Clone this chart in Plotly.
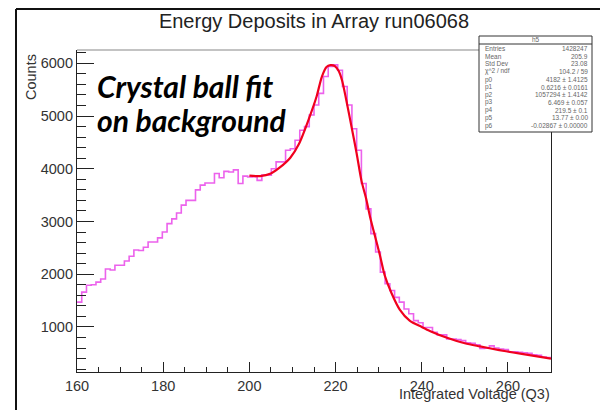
import numpy as np
import plotly.graph_objects as go

# ---- histogram h5: 100 bins of 1.1 between 160 and 270 ----
bin_lo = 160.0
bin_hi = 270.0
n_bins = 100
counts = [
    1470, 1660, 1790, 1800, 1850, 1910, 2100, 2080, 2170, 2170,
    2250, 2340, 2460, 2450, 2510, 2610, 2610, 2690, 2800, 2960,
    3050, 3160, 3310, 3400, 3400, 3600, 3690, 3730, 3730, 3910,
    3830, 3950, 3940, 3980, 3720, 3860, 3845, 3850, 3780, 3880,
    3880, 4000, 4130, 4130, 4350, 4380, 4540, 4730, 4800, 5020,
    5210, 5430, 5750, 5940, 5970, 5870, 5560, 5210, 4760, 4350,
    3720, 3240, 2770, 2420, 2040, 1820, 1690, 1560, 1470, 1340,
    1250, 1120, 1080, 990, 990, 900, 850, 850, 770, 770,
    760, 740, 700, 690, 660, 590, 600, 640, 600, 580,
    570, 530, 530, 520, 510, 500, 470, 460, 430, 420,
]

# ---- crystal ball + background fit, sampled along the drawn curve ----
fit_x = [200, 202.5, 205, 207, 209.5, 211.5, 214, 215.6, 216.8, 217.9,
         218.8, 219.8, 220.7, 221.5, 222.5, 223.7, 224.9, 226, 227.2, 228,
         229.1, 230.3, 231.4, 233, 234.9, 237.2, 240, 242, 245.7, 250,
         253.5, 258, 261.2, 265, 270]
fit_y = [3870, 3860, 3910, 4020, 4210, 4470, 4990, 5370, 5740, 5930,
         5965, 5950, 5860, 5680, 5300, 4800, 4290, 3780, 3400, 3090,
         2740, 2360, 1980, 1640, 1330, 1120, 1000, 920, 800, 690,
         630, 560, 515, 465, 400]

# ---- statistics box ----
stat_labels = ["Entries", "Mean", "Std Dev", "\u03c7^2 / ndf",
               "p0", "p1", "p2", "p3", "p4", "p5", "p6"]
stat_values = ["1428247", "205.9", "23.08", "104.2 / 59",
               "4182 \u00b1 1.4125", "0.6216 \u00b1 0.0161",
               "1057294 \u00b1 1.4142", "6.469 \u00b1 0.057",
               "219.5 \u00b1 0.1", "13.77 \u00b1 0.00",
               "-0.02867 \u00b1 0.00000"]

x_ticks = [160, 180, 200, 220, 240, 260]
y_ticks = [1000, 2000, 3000, 4000, 5000, 6000]

W, H = 600, 410
L, R, T, B = 77, 49, 50, 38
PW, PH = W - L - R, H - T - B


def px(x):
    return (x - L) / PW


def py(y):
    return (H - B - y) / PH


edges = np.linspace(bin_lo, bin_hi, n_bins + 1)
step_y = list(counts) + [counts[-1]]

fig = go.Figure()
fig.add_trace(go.Scatter(
    x=edges, y=step_y, mode="lines", line_shape="hv",
    line=dict(color="#ec62ec", width=1.6), hoverinfo="skip"))
fig.add_trace(go.Scatter(
    x=fit_x, y=fit_y, mode="lines", line_shape="spline",
    line=dict(color="#f0001e", width=2.2, smoothing=0.8), hoverinfo="skip"))

axis_font = dict(family="Liberation Sans, Arial", size=14.5, color="#333333")

fig.update_layout(
    width=W, height=H,
    margin=dict(l=L, r=R, t=T, b=B, pad=0),
    paper_bgcolor="white", plot_bgcolor="white",
    showlegend=False,
    title=dict(text="Energy Deposits in Array run06068",
               x=314 / W, xanchor="center", xref="container",
               y=1 - 21 / H, yanchor="middle", yref="container",
               font=dict(family="Liberation Sans, Arial", size=20, color="#222222")),
    xaxis=dict(range=[bin_lo, bin_hi], tickvals=x_ticks,
               ticks="inside", ticklen=10, tickcolor="#222", tickwidth=1,
               minor=dict(ticks="inside", ticklen=5, dtick=5, tick0=160,
                          tickcolor="#222"),
               showline=True, linecolor="#222", linewidth=1.2, mirror=False,
               showgrid=False, zeroline=False, tickfont=axis_font),
    yaxis=dict(range=[145, 6253], tickvals=y_ticks,
               ticks="inside", ticklen=17, tickcolor="#222", tickwidth=1,
               minor=dict(ticks="inside", ticklen=9, dtick=200, tick0=0,
                          tickcolor="#222"),
               showline=True, linecolor="#222", linewidth=1.2, mirror=True,
               showgrid=False, zeroline=False, tickfont=axis_font),
)

shapes = [
    # frame top edge
    dict(type="line", xref="paper", yref="paper", x0=0, x1=1, y0=1, y1=1,
         line=dict(color="#888888", width=1.2)),
    # canvas border
    dict(type="line", xref="paper", yref="paper",
         x0=px(16), x1=px(16), y0=py(9), y1=py(420),
         line=dict(color="#111111", width=2)),
    dict(type="line", xref="paper", yref="paper",
         x0=px(16), x1=px(610), y0=py(9), y1=py(9),
         line=dict(color="#111111", width=2)),
    # stats box
    dict(type="rect", xref="paper", yref="paper",
         x0=px(479), x1=px(592), y0=py(132), y1=py(36),
         fillcolor="white", line=dict(color="#333333", width=1)),
    dict(type="line", xref="paper", yref="paper",
         x0=px(479), x1=px(592), y0=py(44), y1=py(44),
         line=dict(color="#333333", width=1)),
]
fig.update_layout(shapes=shapes)

ann = []
ann.append(dict(text="Counts", xref="paper", yref="paper",
                x=px(31), y=py(52), xanchor="center", yanchor="top",
                textangle=-90, showarrow=False,
                font=dict(family="Liberation Sans, Arial", size=14.5, color="#333333")))
ann.append(dict(text="Integrated Voltage (Q3)", xref="paper", yref="paper",
                x=px(552), y=py(394), xanchor="right", yanchor="middle",
                showarrow=False,
                font=dict(family="Liberation Sans, Arial", size=14.5, color="#333333")))
ann.append(dict(text="Crystal ball fit", xref="paper", yref="paper",
                x=px(95), y=py(86), xanchor="left", yanchor="middle",
                showarrow=False,
                font=dict(family="Lato", size=30, color="black",
                          weight="bold", style="italic")))
ann.append(dict(text="on background", xref="paper", yref="paper",
                x=px(95), y=py(120), xanchor="left", yanchor="middle",
                showarrow=False,
                font=dict(family="Lato", size=30, color="black",
                          weight="bold", style="italic")))

stat_font = dict(family="Liberation Sans, Arial", size=6.5, color="#666666")
ann.append(dict(text="h5", xref="paper", yref="paper",
                x=px(535.5), y=py(39.8), xanchor="center", yanchor="middle",
                showarrow=False, font=stat_font))
row_y = [48.5, 56, 63.5, 71.3, 79.8, 87.3, 94.8, 102.3, 110, 117.7, 125.5]
for lab, val, yy in zip(stat_labels, stat_values, row_y):
    ann.append(dict(text=lab, xref="paper", yref="paper",
                    x=px(483), y=py(yy), xanchor="left", yanchor="middle",
                    showarrow=False, font=stat_font))
    ann.append(dict(text=val, xref="paper", yref="paper",
                    x=px(590), y=py(yy), xanchor="right", yanchor="middle",
                    showarrow=False, font=stat_font))
fig.update_layout(annotations=ann)

fig.write_html("out.html")
